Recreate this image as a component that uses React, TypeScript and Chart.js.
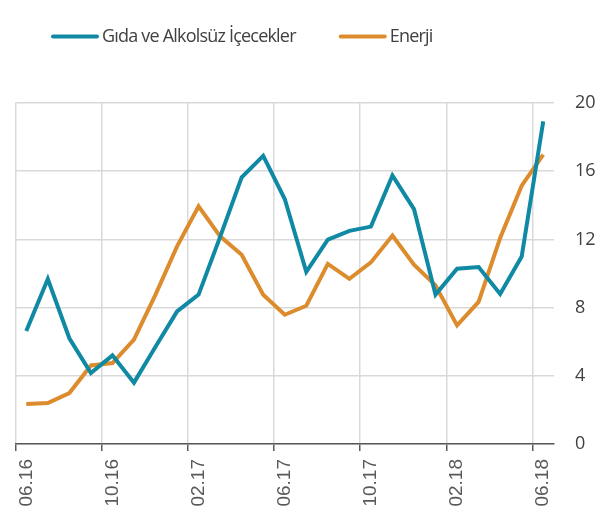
import React, { useEffect, useRef } from 'react';
import { Chart, registerables } from 'chart.js';

Chart.register(...registerables);

const months = [
  '06.16', '07.16', '08.16', '09.16', '10.16', '11.16', '12.16',
  '01.17', '02.17', '03.17', '04.17', '05.17', '06.17', '07.17', '08.17', '09.17', '10.17', '11.17', '12.17',
  '01.18', '02.18', '03.18', '04.18', '05.18', '06.18',
];

const gidaLabel = 'Gıda ve Alkolsüz İçecekler';
const gida = [
  6.63, 9.68, 6.2, 4.16, 5.2, 3.6, 5.7, 7.78, 8.76, 12.15, 15.64, 16.9, 14.37,
  10.1, 11.98, 12.5, 12.75, 15.75, 13.78, 8.76, 10.28, 10.38, 8.8, 11.0, 18.92,
];

const enerjiLabel = 'Enerji';
const enerji = [
  2.35, 2.4, 2.99, 4.61, 4.75, 6.12, 8.76, 11.59, 13.94, 12.18, 11.1, 8.76, 7.58,
  8.11, 10.56, 9.69, 10.65, 12.23, 10.52, 9.3, 6.96, 8.33, 12.08, 15.15, 16.97,
];

const yMin = 0;
const yMax = 20;
const yStep = 4;
const labelEvery = 4;

const BLUE = '#0f89a4';
const ORANGE = '#dd8c2d';

const legendPlugin = {
  id: 'topLegend',
  afterDraw(chart: any) {
    const ctx = chart.ctx as any;
    ctx.save();
    ctx.font = '18px "Open Sans"';
    ctx.letterSpacing = '-0.8px';
    ctx.textBaseline = 'middle';
    ctx.textAlign = 'left';
    let x = 52;
    const y = 36.5;
    chart.data.datasets.forEach((ds: any) => {
      ctx.strokeStyle = ds.borderColor;
      ctx.lineWidth = 4;
      ctx.lineCap = 'round';
      ctx.beginPath();
      ctx.moveTo(x + 1, y);
      ctx.lineTo(x + 45, y);
      ctx.stroke();
      ctx.fillStyle = '#404040';
      ctx.fillText(ds.label, x + 50, y);
      x += 50 + ctx.measureText(ds.label).width + 44;
    });
    ctx.restore();
  },
};

export default function App() {
  const ref = useRef<HTMLCanvasElement | null>(null);

  useEffect(() => {
    document.body.style.margin = '0';
    if (!ref.current) return;
    const chart = new Chart(ref.current, {
      type: 'line',
      data: {
        labels: months,
        datasets: [
          {
            label: gidaLabel,
            data: gida,
            borderColor: BLUE,
            backgroundColor: BLUE,
            borderWidth: 4,
            pointRadius: 0,
            tension: 0,
          },
          {
            label: enerjiLabel,
            data: enerji,
            borderColor: ORANGE,
            backgroundColor: ORANGE,
            borderWidth: 4,
            pointRadius: 0,
            tension: 0,
          },
        ],
      },
      options: {
        responsive: false,
        animation: false,
        layout: { padding: { top: 103, left: 15.5, right: 0, bottom: 0 } },
        plugins: {
          legend: { display: false },
          tooltip: { enabled: false },
        },
        scales: {
          x: {
            offset: true,
            afterFit: (s: any) => { s.height = 69; },
            grid: {
              offset: true,
              drawOnChartArea: true,
              color: (c: any) => (c.index % labelEvery === 0 ? '#d9d9d9' : 'rgba(0,0,0,0)'),
              tickColor: (c: any) => (c.index % labelEvery === 0 ? '#595959' : 'rgba(0,0,0,0)'),
              tickLength: 7,
              lineWidth: 1.5,
            },
            border: { display: true, color: '#595959', width: 1.5 },
            ticks: {
              autoSkip: false,
              maxRotation: 90,
              minRotation: 90,
              padding: 8,
              color: '#595959',
              font: { family: '"Liberation Sans", Arial, sans-serif', size: 19 },
              callback: (_v: any, i: number) => (i % labelEvery === 0 ? months[i] : ''),
            },
          },
          y: {
            position: 'right',
            min: yMin,
            max: yMax,
            afterFit: (s: any) => { s.width = 47; },
            grid: { color: '#d9d9d9', lineWidth: 1.5, drawTicks: false },
            border: { display: false },
            ticks: {
              stepSize: yStep,
              padding: 21,
              color: '#404040',
              font: { family: '"Open Sans", sans-serif', size: 18 },
            },
          },
        },
      },
      plugins: [legendPlugin],
    });
    return () => chart.destroy();
  }, []);

  return (
    <div style={{ width: 601, height: 513 }}>
      <canvas ref={ref} width={601} height={513} />
    </div>
  );
}
